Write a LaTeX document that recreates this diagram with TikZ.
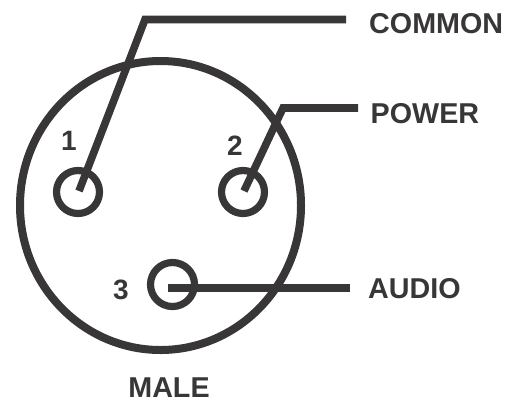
\documentclass[tikz,border=0pt]{standalone}
\usepackage{fontspec}
\usetikzlibrary{shapes.geometric}
\setmainfont{Liberation Sans}
\definecolor{wirecol}{HTML}{383636}
\tikzset{
  wire/.style={line width=7.6pt, line join=miter, color=wirecol},
  pinring/.style={circle, draw=wirecol, line width=7.2pt, minimum size=43pt, inner sep=0pt},
  lab/.style={font=\bfseries\fontsize{28.7}{29}\selectfont, text=wirecol, inner sep=0pt, anchor=west},
  num/.style={font=\bfseries\fontsize{28}{28}\selectfont, text=wirecol, inner sep=0pt}
}
\begin{document}
\begin{tikzpicture}[x=1pt,y=-1pt]
\useasboundingbox (0,0) rectangle (510,400);
\node[ellipse, draw=wirecol, line width=8pt, minimum width=281pt, minimum height=289pt, inner sep=0pt] (shell) at (160.5,205.5) {};
\node[pinring] (p1) at (78,192) {};
\node[pinring] (p2) at (243,192) {};
\node[pinring, minimum size=44pt] (p3) at (172.5,284.5) {};
\coordinate (c1) at (79,191);
\coordinate (c2) at (244,191);
\coordinate (c3) at (168,288);
\coordinate (b1) at (145,19.5);
\coordinate (b2) at (283,108);
\coordinate (e1) at (346,19.5);
\coordinate (e2) at (358,108);
\coordinate (e3) at (350,288);
\draw[wire] (c1) -- (b1) -- (e1);
\draw[wire] (c2) -- (b2) -- (e2);
\draw[wire] (c3) -- (e3);
\node[lab] (common) at (369,23.5) {COMMON};
\node[lab] (power) at (370.5,113.5) {POWER};
\node[lab] (audio) at (368,289) {AUDIO};
\node[num] (n1) at (69,141) {1};
\node[num] (n2) at (235,146) {2};
\node[num] (n3) at (121,290) {3};
\node[lab, anchor=center] (male) at (169,388) {MALE};
\end{tikzpicture}
\end{document}
